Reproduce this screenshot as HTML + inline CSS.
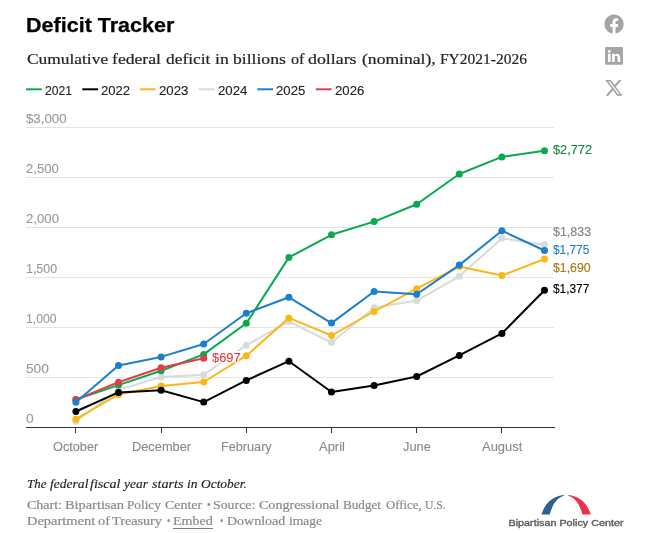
<!DOCTYPE html>
<html><head><meta charset="utf-8"><title>Deficit Tracker</title>
<style>
html,body{margin:0;padding:0;background:#fff}
body{width:657px;height:533px;position:relative;overflow:hidden;font-family:"Liberation Sans",sans-serif}
div{position:absolute;white-space:nowrap;transform-origin:0 0}
.title{font-size:20.6px;font-weight:bold;color:#000;line-height:24px;-webkit-text-stroke:0.25px #000}
.sub{font-family:"Liberation Serif",serif;font-size:15.5px;color:#222;line-height:18px;-webkit-text-stroke:0.2px #222}
.ls{top:89px;width:15px;height:2px}
.lt{font-size:13.7px;line-height:16px;color:#222;-webkit-text-stroke:0.12px #222}
.g{left:26px;width:528px;height:1px}
.yl{font-size:13.7px;line-height:16px;color:#999;-webkit-text-stroke:0.12px #999}
.tk{top:428px;width:1px;height:5px;background:#333}
.xl{font-size:13.4px;line-height:16px;color:#8a8a8a;-webkit-text-stroke:0.12px #8a8a8a}
.vl{font-size:13.7px;line-height:16px;-webkit-text-stroke:0.15px currentColor}
.note{font-family:"Liberation Serif",serif;font-style:italic;font-size:13px;line-height:18px;color:#222;-webkit-text-stroke:0.15px #222}
.foot{font-family:"Liberation Serif",serif;font-size:13px;line-height:16px;color:#8a8a8a;-webkit-text-stroke:0.2px #8a8a8a}
svg{position:absolute;left:0;top:0}
.ln{left:0;top:0}
</style></head><body>
<div class="g" style="top:127px;width:528px;background:#e4e4e4"></div><div class="g" style="top:177px;width:528px;background:#e4e4e4"></div><div class="g" style="top:227px;width:528px;background:#e4e4e4"></div><div class="g" style="top:277px;width:528px;background:#e4e4e4"></div><div class="g" style="top:327px;width:528px;background:#e4e4e4"></div><div class="g" style="top:377px;width:528px;background:#e4e4e4"></div><div class="g" style="top:427px;width:529px;background:#333"></div>
<div class="tk" style="left:75px"></div><div class="tk" style="left:161px"></div><div class="tk" style="left:246px"></div><div class="tk" style="left:331px"></div><div class="tk" style="left:416px"></div><div class="tk" style="left:501px"></div>
<div style="left:173px;top:528px;width:40px;height:1px;background:#7d7d7d"></div>
<svg width="657" height="533" viewBox="0 0 657 533">
<line x1="26.0" x2="41.8" y1="89.3" y2="89.3" stroke="#0ba84e" stroke-width="2"/><line x1="82.3" x2="98.1" y1="89.3" y2="89.3" stroke="#000" stroke-width="2"/><line x1="139.8" x2="155.60000000000002" y1="89.3" y2="89.3" stroke="#fcb716" stroke-width="2"/><line x1="198.8" x2="214.60000000000002" y1="89.3" y2="89.3" stroke="#d6dbdb" stroke-width="2"/><line x1="257.3" x2="273.1" y1="89.3" y2="89.3" stroke="#1b7fcc" stroke-width="2"/><line x1="315.8" x2="331.6" y1="89.3" y2="89.3" stroke="#e33c46" stroke-width="2"/>
<polyline points="75.9,421.3 118.5,389.9 161.1,377.0 203.7,374.8 246.3,345.2 288.9,321.5 331.5,342.5 374.1,307.8 416.7,300.6 459.3,276.3 501.9,238.3 544.5,244.7" fill="none" stroke="#d6dbdb" stroke-width="2" stroke-linejoin="round" stroke-linecap="round"/><circle cx="75.9" cy="421.3" r="3.5" fill="#d6dbdb"/><circle cx="118.5" cy="389.9" r="3.5" fill="#d6dbdb"/><circle cx="161.1" cy="377.0" r="3.5" fill="#d6dbdb"/><circle cx="203.7" cy="374.8" r="3.5" fill="#d6dbdb"/><circle cx="246.3" cy="345.2" r="3.5" fill="#d6dbdb"/><circle cx="288.9" cy="321.5" r="3.5" fill="#d6dbdb"/><circle cx="331.5" cy="342.5" r="3.5" fill="#d6dbdb"/><circle cx="374.1" cy="307.8" r="3.5" fill="#d6dbdb"/><circle cx="416.7" cy="300.6" r="3.5" fill="#d6dbdb"/><circle cx="459.3" cy="276.3" r="3.5" fill="#d6dbdb"/><circle cx="501.9" cy="238.3" r="3.5" fill="#d6dbdb"/><circle cx="544.5" cy="244.7" r="3.5" fill="#d6dbdb"/><polyline points="75.9,419.2 118.5,394.4 161.1,385.9 203.7,382.0 246.3,355.7 288.9,317.9 331.5,335.5 374.1,311.5 416.7,288.7 459.3,266.6 501.9,275.6 544.5,259.0" fill="none" stroke="#fcb716" stroke-width="2" stroke-linejoin="round" stroke-linecap="round"/><circle cx="75.9" cy="419.2" r="3.5" fill="#fcb716"/><circle cx="118.5" cy="394.4" r="3.5" fill="#fcb716"/><circle cx="161.1" cy="385.9" r="3.5" fill="#fcb716"/><circle cx="203.7" cy="382.0" r="3.5" fill="#fcb716"/><circle cx="246.3" cy="355.7" r="3.5" fill="#fcb716"/><circle cx="288.9" cy="317.9" r="3.5" fill="#fcb716"/><circle cx="331.5" cy="335.5" r="3.5" fill="#fcb716"/><circle cx="374.1" cy="311.5" r="3.5" fill="#fcb716"/><circle cx="416.7" cy="288.7" r="3.5" fill="#fcb716"/><circle cx="459.3" cy="266.6" r="3.5" fill="#fcb716"/><circle cx="501.9" cy="275.6" r="3.5" fill="#fcb716"/><circle cx="544.5" cy="259.0" r="3.5" fill="#fcb716"/><polyline points="75.9,411.5 118.5,392.4 161.1,390.2 203.7,402.1 246.3,380.4 288.9,361.2 331.5,392.0 374.1,385.4 416.7,376.5 459.3,355.4 501.9,333.4 544.5,290.3" fill="none" stroke="#000000" stroke-width="2" stroke-linejoin="round" stroke-linecap="round"/><circle cx="75.9" cy="411.5" r="3.5" fill="#000000"/><circle cx="118.5" cy="392.4" r="3.5" fill="#000000"/><circle cx="161.1" cy="390.2" r="3.5" fill="#000000"/><circle cx="203.7" cy="402.1" r="3.5" fill="#000000"/><circle cx="246.3" cy="380.4" r="3.5" fill="#000000"/><circle cx="288.9" cy="361.2" r="3.5" fill="#000000"/><circle cx="331.5" cy="392.0" r="3.5" fill="#000000"/><circle cx="374.1" cy="385.4" r="3.5" fill="#000000"/><circle cx="416.7" cy="376.5" r="3.5" fill="#000000"/><circle cx="459.3" cy="355.4" r="3.5" fill="#000000"/><circle cx="501.9" cy="333.4" r="3.5" fill="#000000"/><circle cx="544.5" cy="290.3" r="3.5" fill="#000000"/><polyline points="75.9,399.6 118.5,385.1 161.1,370.7 203.7,354.4 246.3,323.3 288.9,257.4 331.5,234.8 374.1,221.6 416.7,204.2 459.3,174.0 501.9,156.9 544.5,150.8" fill="none" stroke="#0ba84e" stroke-width="2" stroke-linejoin="round" stroke-linecap="round"/><circle cx="75.9" cy="399.6" r="3.5" fill="#0ba84e"/><circle cx="118.5" cy="385.1" r="3.5" fill="#0ba84e"/><circle cx="161.1" cy="370.7" r="3.5" fill="#0ba84e"/><circle cx="203.7" cy="354.4" r="3.5" fill="#0ba84e"/><circle cx="246.3" cy="323.3" r="3.5" fill="#0ba84e"/><circle cx="288.9" cy="257.4" r="3.5" fill="#0ba84e"/><circle cx="331.5" cy="234.8" r="3.5" fill="#0ba84e"/><circle cx="374.1" cy="221.6" r="3.5" fill="#0ba84e"/><circle cx="416.7" cy="204.2" r="3.5" fill="#0ba84e"/><circle cx="459.3" cy="174.0" r="3.5" fill="#0ba84e"/><circle cx="501.9" cy="156.9" r="3.5" fill="#0ba84e"/><circle cx="544.5" cy="150.8" r="3.5" fill="#0ba84e"/><polyline points="75.9,399.6 118.5,382.2 161.1,367.8 203.7,358.3" fill="none" stroke="#e33c46" stroke-width="2" stroke-linejoin="round" stroke-linecap="round"/><circle cx="75.9" cy="399.6" r="3.5" fill="#e33c46"/><circle cx="118.5" cy="382.2" r="3.5" fill="#e33c46"/><circle cx="161.1" cy="367.8" r="3.5" fill="#e33c46"/><circle cx="203.7" cy="358.3" r="3.5" fill="#e33c46"/><polyline points="75.9,402.3 118.5,365.6 161.1,356.9 203.7,344.0 246.3,313.3 288.9,297.3 331.5,323.1 374.1,291.5 416.7,294.3 459.3,265.1 501.9,230.7 544.5,250.5" fill="none" stroke="#1b7fcc" stroke-width="2" stroke-linejoin="round" stroke-linecap="round"/><circle cx="75.9" cy="402.3" r="3.5" fill="#1b7fcc"/><circle cx="118.5" cy="365.6" r="3.5" fill="#1b7fcc"/><circle cx="161.1" cy="356.9" r="3.5" fill="#1b7fcc"/><circle cx="203.7" cy="344.0" r="3.5" fill="#1b7fcc"/><circle cx="246.3" cy="313.3" r="3.5" fill="#1b7fcc"/><circle cx="288.9" cy="297.3" r="3.5" fill="#1b7fcc"/><circle cx="331.5" cy="323.1" r="3.5" fill="#1b7fcc"/><circle cx="374.1" cy="291.5" r="3.5" fill="#1b7fcc"/><circle cx="416.7" cy="294.3" r="3.5" fill="#1b7fcc"/><circle cx="459.3" cy="265.1" r="3.5" fill="#1b7fcc"/><circle cx="501.9" cy="230.7" r="3.5" fill="#1b7fcc"/><circle cx="544.5" cy="250.5" r="3.5" fill="#1b7fcc"/>
</svg>
<div class="title" style="left:25.8px;top:12px;transform:translateY(0.60px) scaleX(1.0454);">Deficit Tracker</div>
<div class="ln">
<div class="sub" style="left:26.5px;top:50px;transform:scaleX(1.1213);">Cumulative</div>
<div class="sub" style="left:112.3px;top:50px;transform:scaleX(1.1387);">federal</div>
<div class="sub" style="left:165.7px;top:50px;transform:scaleX(1.1214);">deficit</div>
<div class="sub" style="left:215.2px;top:50px;transform:scaleX(1.1358);">in</div>
<div class="sub" style="left:233.3px;top:50px;transform:scaleX(1.1351);">billions</div>
<div class="sub" style="left:290.8px;top:50px;transform:scaleX(1.0370);">of</div>
<div class="sub" style="left:308.4px;top:50px;transform:scaleX(1.1496);">dollars</div>
<div class="sub" style="left:361.7px;top:50px;transform:scaleX(1.1338);">(nominal),</div>
<div class="sub" style="left:439.7px;top:50px;transform:scaleX(0.9990);">FY2021-2026</div>
</div>
<div class="lt" style="left:45.0px;top:83px;transform:scaleX(0.8899);">2021</div>
<div class="lt" style="left:100.8px;top:83px;transform:scaleX(0.9556);">2022</div>
<div class="lt" style="left:159.0px;top:83px;transform:scaleX(0.9687);">2023</div>
<div class="lt" style="left:217.6px;top:83px;transform:scaleX(0.9687);">2024</div>
<div class="lt" style="left:276.3px;top:83px;transform:scaleX(0.9621);">2025</div>
<div class="lt" style="left:334.7px;top:83px;transform:scaleX(0.9621);">2026</div>
<div class="yl" style="left:25.9px;top:111px;transform:scaleX(0.9672);">$3,000</div>
<div class="yl" style="left:25.9px;top:161px;transform:scaleX(0.9572);">2,500</div>
<div class="yl" style="left:25.9px;top:211px;transform:scaleX(0.9631);">2,000</div>
<div class="yl" style="left:25.9px;top:261px;transform:scaleX(0.9076);">1,500</div>
<div class="yl" style="left:25.9px;top:311px;transform:scaleX(0.8930);">1,000</div>
<div class="yl" style="left:25.9px;top:361px;transform:scaleX(0.9981);">500</div>
<div class="yl" style="left:25.9px;top:411px;transform:scaleX(1.0098);">0</div>
<div class="xl" style="left:53.3px;top:439px;transform:scaleX(0.9488);">October</div>
<div class="xl" style="left:131.9px;top:439px;transform:scaleX(0.9566);">December</div>
<div class="xl" style="left:221.1px;top:439px;transform:scaleX(0.9460);">February</div>
<div class="xl" style="left:318.9px;top:439px;transform:scaleX(0.9665);">April</div>
<div class="xl" style="left:402.8px;top:439px;transform:scaleX(0.9605);">June</div>
<div class="xl" style="left:481.7px;top:439px;transform:scaleX(0.9688);">August</div>
<div class="vl" style="left:553.2px;top:141px;transform:translateY(0.90px) scaleX(0.9337);color:#15893f">$2,772</div>
<div class="vl" style="left:553.2px;top:224px;transform:translateY(0.40px) scaleX(0.9099);color:#858585">$1,833</div>
<div class="vl" style="left:553.2px;top:242px;transform:translateY(0.40px) scaleX(0.8669);color:#1b7fcc">$1,775</div>
<div class="vl" style="left:553.2px;top:260px;transform:translateY(0.40px) scaleX(0.8979);color:#a67a10">$1,690</div>
<div class="vl" style="left:553.2px;top:281px;transform:translateY(0.40px) scaleX(0.8669);color:#000">$1,377</div>
<div class="vl" style="left:212.4px;top:349px;transform:translateY(0.50px) scaleX(0.9391);color:#e33c46;text-shadow:0 0 2px #fff,1px 1px 0 #fff,-1px -1px 0 #fff,1px -1px 0 #fff,-1px 1px 0 #fff,0 1.5px 0 #fff,0 -1.5px 0 #fff,1.5px 0 0 #fff,-1.5px 0 0 #fff">$697</div>
<div class="ln">
<div class="note" style="left:26.5px;top:474px;transform:translateY(0.50px) scaleX(0.9949);">The</div>
<div class="note" style="left:49.8px;top:474px;transform:translateY(0.50px) scaleX(1.0427);">federal</div>
<div class="note" style="left:90.0px;top:474px;transform:translateY(0.50px) scaleX(1.0791);">fiscal</div>
<div class="note" style="left:123.7px;top:474px;transform:translateY(0.50px) scaleX(1.0385);">year</div>
<div class="note" style="left:151.7px;top:474px;transform:translateY(0.50px) scaleX(1.0932);">starts</div>
<div class="note" style="left:186.9px;top:474px;transform:translateY(0.50px) scaleX(1.0370);">in</div>
<div class="note" style="left:201.3px;top:474px;transform:translateY(0.50px) scaleX(1.0310);">October.</div>
</div>
<div class="ln">
<div class="foot" style="left:26.5px;top:497px;transform:scaleX(1.0738);">Chart:</div>
<div class="foot" style="left:65.0px;top:497px;transform:scaleX(1.1041);">Bipartisan</div>
<div class="foot" style="left:127.0px;top:497px;transform:scaleX(1.0170);">Policy</div>
<div class="foot" style="left:164.8px;top:497px;transform:scaleX(1.0705);">Center</div>
<div class="foot" style="left:206.5px;top:497px;transform:scaleX(0.8110);">•</div>
<div class="foot" style="left:213.2px;top:497px;transform:scaleX(1.0650);">Source:</div>
<div class="foot" style="left:258.9px;top:497px;transform:scaleX(1.0808);">Congressional</div>
<div class="foot" style="left:343.3px;top:497px;transform:scaleX(1.0116);">Budget</div>
<div class="foot" style="left:385.5px;top:497px;transform:scaleX(0.9829);">Office,</div>
<div class="foot" style="left:424.6px;top:497px;transform:scaleX(0.8995);">U.S.</div>
</div>
<div class="ln">
<div class="foot" style="left:26.5px;top:512px;transform:translateY(0.60px) scaleX(1.1128);">Department</div>
<div class="foot" style="left:98.2px;top:512px;transform:translateY(0.60px) scaleX(1.1066);">of</div>
<div class="foot" style="left:112.0px;top:512px;transform:translateY(0.60px) scaleX(1.0907);">Treasury</div>
<div class="foot" style="left:166.8px;top:512px;transform:translateY(0.60px) scaleX(0.7014);">•</div>
<div class="foot" style="left:173.2px;top:512px;transform:translateY(0.60px) scaleX(1.0780);">Embed</div>
<div class="foot" style="left:220.2px;top:512px;transform:translateY(0.60px) scaleX(0.7233);">•</div>
<div class="foot" style="left:226.5px;top:512px;transform:translateY(0.60px) scaleX(1.0744);">Download</div>
<div class="foot" style="left:288.5px;top:512px;transform:translateY(0.60px) scaleX(1.0420);">image</div>
</div>
<svg width="657" height="533" viewBox="0 0 657 533">
<g fill="#a4a4a4">
<path transform="translate(604.45,14.45) scale(1.2)" d="M16 8.049c0-4.446-3.582-8.05-8-8.05C3.58 0-.002 3.603-.002 8.05c0 4.017 2.926 7.347 6.75 7.951v-5.625h-2.03V8.05H6.75V6.275c0-2.017 1.195-3.131 3.022-3.131.876 0 1.791.157 1.791.157v1.98h-1.009c-.993 0-1.303.621-1.303 1.258v1.51h2.218l-.354 2.326H9.25V16c3.824-.604 6.75-3.934 6.75-7.951"/>
<path transform="translate(605.1,47) scale(1.113)" d="M0 1.146C0 .513.526 0 1.175 0h13.65C15.474 0 16 .513 16 1.146v13.708c0 .633-.526 1.146-1.175 1.146H1.175C.526 16 0 15.487 0 14.854zm4.943 12.248V6.169H2.542v7.225zm-1.2-8.212c.837 0 1.358-.554 1.358-1.248-.015-.709-.52-1.248-1.342-1.248S2.4 3.226 2.4 3.934c0 .694.521 1.248 1.327 1.248zm4.908 8.212V9.359c0-.216.016-.432.08-.586.173-.431.568-.878 1.232-.878.869 0 1.216.662 1.216 1.634v3.865h2.401V9.25c0-2.22-1.184-3.252-2.764-3.252-1.274 0-1.845.7-2.165 1.193v.025h-.016l.016-.025V6.169h-2.4c.03.678 0 7.225 0 7.225z"/>
<path transform="translate(605.25,79.2) scale(1.083)" d="M12.6.75h2.454l-5.36 6.142L16 15.25h-4.937l-3.867-5.07-4.425 5.07H.316l5.733-6.57L0 .75h5.063l3.495 4.633L12.601.75Zm-.86 13.028h1.36L4.323 2.145H2.865z"/>
</g>
<path d="M541.4 514.6 C545 503 553 496 563.9 495 L563.9 495.8 C557.5 497.5 552.5 504 549.7 514.6Z" fill="#2d5f91"/>
<path d="M590.8 514.6 C587.2 503 579.2 496 568.3 495 L568.3 495.8 C574.7 497.5 579.7 504 582.5 514.6Z" fill="#e9334a"/>
<text x="566" y="525.9" text-anchor="middle" font-family="Liberation Sans, sans-serif" font-size="9.5" fill="#58595b" stroke="#58595b" stroke-width="0.35" textLength="115" lengthAdjust="spacingAndGlyphs">Bipartisan Policy Center</text>
</svg>
</body></html>
